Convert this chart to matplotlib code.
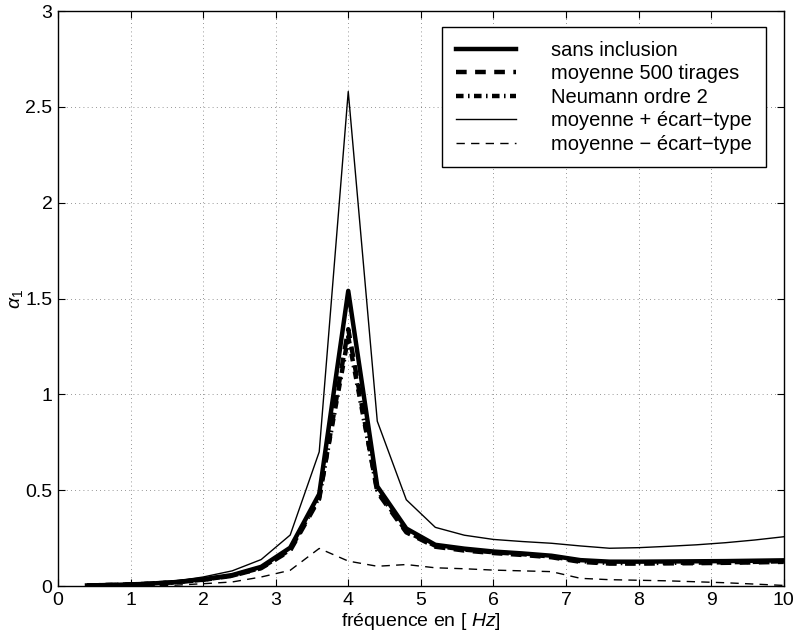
import matplotlib
matplotlib.use("Agg")
import matplotlib.pyplot as plt

plt.rcParams['font.family'] = ['Liberation Sans', 'DejaVu Sans']
plt.rcParams['mathtext.fontset'] = 'custom'
plt.rcParams['mathtext.rm'] = 'Liberation Sans'
plt.rcParams['mathtext.it'] = 'Liberation Sans:italic'

# frequencies (Hz)
freq = [0.4, 0.8, 1.2, 1.6, 2.0, 2.4, 2.8, 3.2, 3.6, 4.0, 4.4, 4.8, 5.2,
        5.6, 6.0, 6.4, 6.8, 7.2, 7.6, 8.0, 8.4, 8.8, 9.2, 9.6, 10.0]

sans_inclusion = [0.003, 0.006, 0.011, 0.020, 0.035, 0.057, 0.100, 0.200, 0.480, 1.540,
                  0.520, 0.300, 0.215, 0.195, 0.180, 0.170, 0.158, 0.135, 0.127, 0.127,
                  0.128, 0.129, 0.130, 0.132, 0.134]
moyenne = [0.003, 0.006, 0.011, 0.019, 0.032, 0.053, 0.093, 0.185, 0.455, 1.340,
           0.490, 0.280, 0.205, 0.185, 0.172, 0.162, 0.150, 0.126, 0.117, 0.117,
           0.118, 0.119, 0.121, 0.123, 0.126]
neumann = [0.003, 0.006, 0.011, 0.019, 0.033, 0.054, 0.095, 0.190, 0.465, 1.300,
           0.500, 0.285, 0.210, 0.190, 0.176, 0.166, 0.154, 0.130, 0.120, 0.120,
           0.121, 0.122, 0.124, 0.126, 0.129]
moy_plus = [0.003, 0.007, 0.012, 0.024, 0.047, 0.079, 0.138, 0.266, 0.700, 2.580,
            0.860, 0.450, 0.306, 0.265, 0.243, 0.232, 0.223, 0.209, 0.197, 0.200,
            0.207, 0.215, 0.226, 0.240, 0.257]
moy_moins = [0.000, 0.000, 0.001, 0.004, 0.012, 0.021, 0.047, 0.082, 0.196, 0.130,
             0.103, 0.112, 0.095, 0.090, 0.083, 0.079, 0.075, 0.040, 0.033, 0.030,
             0.027, 0.022, 0.017, 0.010, 0.003]

labels = ['sans inclusion', 'moyenne 500 tirages', 'Neumann ordre 2',
          'moyenne + écart\u2212type', 'moyenne \u2212 écart\u2212type']

fig = plt.figure(figsize=(7.94, 6.34), dpi=100)
ax = fig.add_axes([0.073, 0.0757, 0.914, 0.9069])

ax.plot(freq, sans_inclusion, color='k', lw=3.2, ls='-', label=labels[0])
ax.plot(freq, moyenne, color='k', lw=3.2, ls=(0, (2.4, 1.9)), label=labels[1])
ax.plot(freq, neumann, color='k', lw=3.2, ls=(0, (1.7, 1.0, 0.35, 1.0)), label=labels[2])
ax.plot(freq, moy_plus, color='k', lw=1.0, ls='-', label=labels[3])
ax.plot(freq, moy_moins, color='k', lw=1.0, ls=(0, (6, 4.5)), label=labels[4])

ax.set_xlim(0, 10)
ax.set_ylim(0, 3)
ax.set_xticks(range(0, 11))
ax.set_yticks([0, 0.5, 1, 1.5, 2, 2.5, 3])
ax.set_yticklabels(['0', '0.5', '1', '1.5', '2', '2.5', '3'])
ax.tick_params(direction='in', length=5, width=0.8, top=True, right=True,
               labelsize=14, pad=4, colors='k')
ax.grid(True, color='k', lw=0.6, ls=(0, (1, 4)), alpha=0.55)
for s in ax.spines.values():
    s.set_linewidth(1.0)

ax.set_xlabel('fréquence en [ $Hz$]', fontsize=14, labelpad=2)
ax.set_ylabel(r'$\alpha_1$', fontsize=14, labelpad=0)

leg = ax.legend(loc='upper right', bbox_to_anchor=(766 / 794, 1 - 27.3 / 634),
                bbox_transform=fig.transFigure, borderaxespad=0, fontsize=14.5,
                handlelength=3.0, handletextpad=1.75, borderpad=0.68,
                labelspacing=0.22, fancybox=False, framealpha=1, edgecolor='k')
leg.get_frame().set_linewidth(1.0)

fig.savefig('out.png', dpi=100)
